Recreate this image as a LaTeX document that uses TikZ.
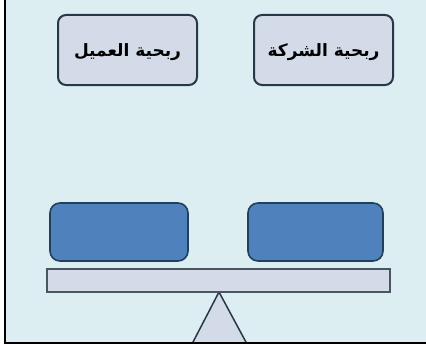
\documentclass[tikz,border=0pt]{standalone}
\usepackage{fontspec}
\TeXXeTstate=1
\newfontfamily\arabicfont[Script=Arabic, BoldFont={DejaVu Sans Bold}]{DejaVu Sans}
\definecolor{bgblue}{HTML}{DDEEF3}
\definecolor{boxfill}{HTML}{D3DBE9}
\definecolor{boxline}{HTML}{2A3746}
\definecolor{blueFill}{HTML}{4F81BD}
\definecolor{blueLine}{HTML}{22405E}
\begin{document}
\begin{tikzpicture}[x=1pt,y=1pt,
  toplabel/.style={draw=boxline, line width=2pt, fill=boxfill, rounded corners=8pt,
    minimum width=139pt, minimum height=70pt, inner sep=0pt,
    font=\arabicfont\bfseries\fontsize{17}{19}\selectfont},
  weight/.style={draw=blueLine, line width=1.6pt, fill=blueFill, rounded corners=10pt,
    minimum height=58pt, inner sep=0pt},
  plank/.style={draw=boxline!85, line width=1.4pt, fill=boxfill,
    minimum width=343pt, minimum height=23pt, inner sep=0pt}]
\useasboundingbox (0,0) rectangle (426,349);
\fill[white] (0,0) rectangle (426,349);
\fill[bgblue] (5,6) rectangle (426,349);
% pivot
\begin{scope}
\clip (5,6) rectangle (426,349);
\draw[draw=boxline, line width=1.5pt, fill=boxfill, line join=miter]
  (219,57) coordinate (apex) -- (192,5) -- (247,5) -- cycle;
\end{scope}
% plank
\node[plank] (bar) at (218.5,68.5) {};
% weights
\node[weight, minimum width=138pt] (wl) at (119,117) {};
\node[weight, minimum width=135pt] (wr) at (315.5,117) {};
% labels
\node[toplabel] (client) at (127.5,299) {\raisebox{-7pt}[0pt][0pt]{\beginR ربحية العميل\endR}};
\node[toplabel] (company) at (323.5,299) {\raisebox{-7pt}[0pt][0pt]{\beginR ربحية الشركة\endR}};
% frame
\draw[black, line width=1.6pt] (5,349) -- (5,6) -- (426,6);
\end{tikzpicture}
\end{document}
